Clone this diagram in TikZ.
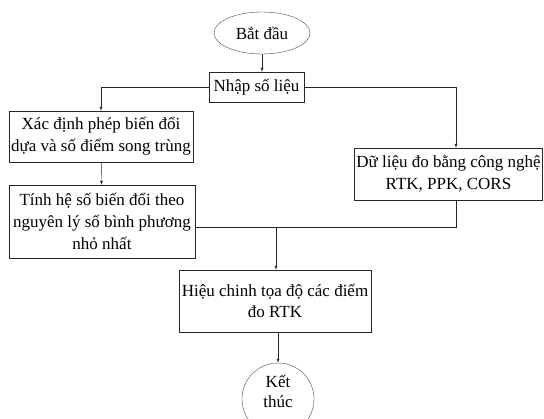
\documentclass[tikz,border=0pt]{standalone}
\usepackage{fontspec}
\setmainfont{Liberation Serif}
\usetikzlibrary{positioning,shapes.geometric}

\begin{document}
\begin{tikzpicture}[x=1pt, y=-1pt, font=\fontsize{17}{21.7}\selectfont]
    \tikzstyle{box}=[rectangle, draw=black!85, align=center, inner sep=2pt]
    \tikzstyle{terminal}=[ellipse, draw=black!70, align=center, inner sep=0pt]
    \tikzstyle{connect}=[-latex, draw=black!85]
    \useasboundingbox (0,0) rectangle (544,419);

      \node[terminal, minimum width=96pt, minimum height=42pt] (batdau) at (262,33) {Bắt đầu};
      \node[box, minimum width=95pt, minimum height=30pt] (nhap) at (256.5,87) {Nhập số liệu};
      \node[box, minimum width=184pt, minimum height=51pt] (xacdinh) at (101,136.5) {Xác định phép biến đổi\\dựa và số điểm song trùng};
      \node[box, minimum width=186pt, minimum height=73pt] (tinh) at (102,221.5) {Tính hệ số biến đổi theo\\nguyên lý số bình phương\\nhỏ nhất};
      \node[box, minimum width=185pt, minimum height=52pt] (dulieu) at (448.5,174) {Dữ liệu đo bằng công nghệ\\RTK, PPK, CORS};
      \node[box, minimum width=192pt, minimum height=62pt] (hieu) at (275,301) {Hiệu chinh tọa độ các điểm\\đo RTK};
      \node[circle, draw=black!70, align=center, inner sep=0pt, minimum size=72pt, text depth=16pt] (ketthuc) at (278,399) {Kết\\[-2pt]thúc};
      \coordinate (rline) at (456,86);
      \coordinate (junc) at (276,227);

      \draw[connect] (batdau) -- (batdau |- nhap.north);
      \draw[connect] (nhap.west) -| (xacdinh.north);
      \draw[connect] (nhap.east) -| (rline |- dulieu.north);
      \draw[connect] (xacdinh) -- (tinh);
      \draw[draw=black!85] (tinh.east |- junc) -- (junc -| rline) -- (rline |- dulieu.south);
      \draw[connect] (junc) -- (junc |- hieu.north);
      \draw[connect] (hieu.south -| ketthuc) -- (ketthuc);
    \end{tikzpicture}
\end{document}
